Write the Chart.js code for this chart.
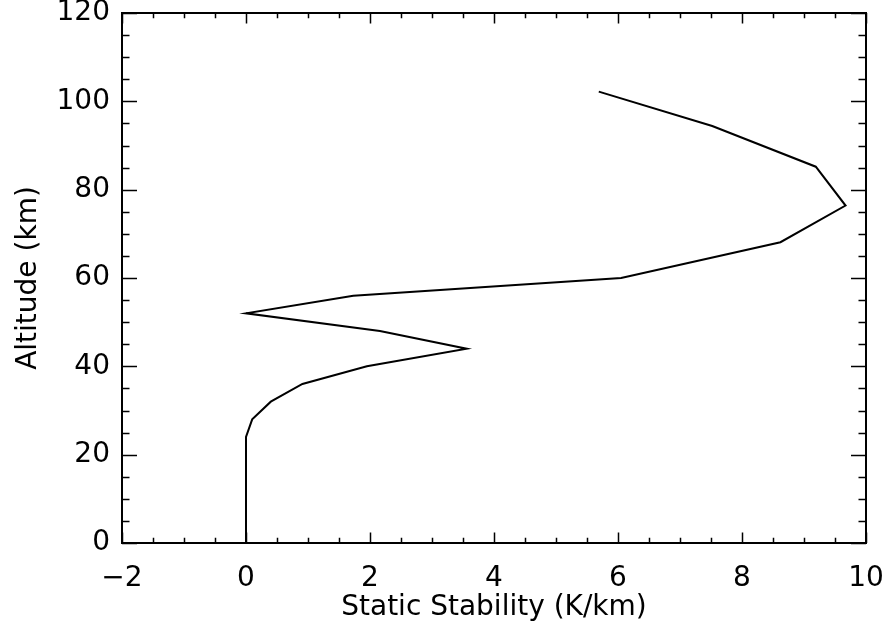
<!DOCTYPE html>
<html>
<head>
<meta charset="utf-8">
<script src="https://cdn.jsdelivr.net/npm/chart.js@4.4.1/dist/chart.umd.min.js"></script>
<style>
html,body{margin:0;padding:0;background:#fff;}
#wrap{width:892px;height:631px;}
</style>
</head>
<body>
<div id="wrap"><canvas id="c" width="892" height="631"></canvas></div>
<script>
// Altitude (km) and static stability (K/km)
const altitudes = [0, 4, 8, 12, 16, 20, 24, 28, 32, 36, 40, 44, 48, 52, 56, 60, 68.1, 76.4, 85.2, 94.4, 102.2];
const stability = [0, 0, 0, 0, 0, 0, 0, 0.10, 0.40, 0.91, 1.95, 3.56, 2.16, 0, 1.73, 6.05, 8.62, 9.67, 9.19, 7.52, 5.69];
const xTicks = [-2, 0, 2, 4, 6, 8, 10];
const yTicks = [0, 20, 40, 60, 80, 100, 120];
const xMinorStep = 0.5;
const yMinorStep = 5;

const points = altitudes.map((a, i) => ({x: stability[i], y: a}));
const FONT = '"DejaVu Sans", sans-serif';
const FONT_SIZE = 28;

const framePlugin = {
  id: 'frame',
  afterDraw(chart) {
    const {ctx, chartArea: a, scales} = chart;
    const xs = scales.x, ys = scales.y;
    ctx.save();
    ctx.strokeStyle = '#000';
    ctx.lineWidth = 2;
    ctx.strokeRect(a.left, a.top, a.right - a.left, a.bottom - a.top);
    ctx.lineWidth = 1.5;
    const xMaj = 10.6, xMin = 5.3, yMaj = 15, yMin = 7.5;
    ctx.beginPath();
    for (let v = xs.min; v <= xs.max + 1e-9; v += xMinorStep) {
      const px = Math.round(xs.getPixelForValue(v)) + 0.5;
      const len = xTicks.some(t => Math.abs(t - v) < 1e-9) ? xMaj : xMin;
      ctx.moveTo(px, a.bottom); ctx.lineTo(px, a.bottom - len);
      ctx.moveTo(px, a.top); ctx.lineTo(px, a.top + len);
    }
    for (let v = ys.min; v <= ys.max + 1e-9; v += yMinorStep) {
      const py = Math.round(ys.getPixelForValue(v)) + 0.5;
      const len = yTicks.some(t => Math.abs(t - v) < 1e-9) ? yMaj : yMin;
      ctx.moveTo(a.left, py); ctx.lineTo(a.left + len, py);
      ctx.moveTo(a.right, py); ctx.lineTo(a.right - len, py);
    }
    ctx.stroke();
    ctx.restore();
  }
};

new Chart(document.getElementById('c'), {
  type: 'scatter',
  data: {
    datasets: [{
      data: points,
      showLine: true,
      borderColor: '#000',
      borderWidth: 2,
      pointRadius: 0,
      fill: false,
      tension: 0
    }]
  },
  options: {
    responsive: false,
    animation: false,
    devicePixelRatio: 1,
    layout: {padding: {top: 13, right: 26, left: 0, bottom: 0}},
    plugins: {legend: {display: false}, tooltip: {enabled: false}},
    scales: {
      x: {
        type: 'linear', min: -2, max: 10,
        afterBuildTicks: s => { s.ticks = xTicks.map(v => ({value: v})); },
        afterFit: s => { s.height = 88; s.paddingLeft = 0; s.paddingRight = 0; },
        grid: {display: false, drawTicks: false},
        border: {display: false},
        ticks: {
          color: '#000', padding: 19,
          font: {family: FONT, size: FONT_SIZE},
          callback: v => (v < 0 ? '\u2212' + Math.abs(v) : String(v))
        },
        title: {display: true, text: 'Static Stability (K/km)', color: '#000',
          font: {family: FONT, size: FONT_SIZE}, padding: {top: 0, bottom: 6}}
      },
      y: {
        type: 'linear', min: 0, max: 120,
        afterBuildTicks: s => { s.ticks = yTicks.map(v => ({value: v})); },
        afterFit: s => { s.width = 122; s.paddingTop = 0; s.paddingBottom = 0; },
        grid: {display: false, drawTicks: false},
        border: {display: false},
        ticks: {
          color: '#000', padding: 12,
          font: {family: FONT, size: FONT_SIZE}
        },
        title: {display: true, text: 'Altitude (km)', color: '#000',
          font: {family: FONT, size: FONT_SIZE}, padding: {top: 12, bottom: 0}}
      }
    }
  },
  plugins: [framePlugin]
});
</script>
</body>
</html>
